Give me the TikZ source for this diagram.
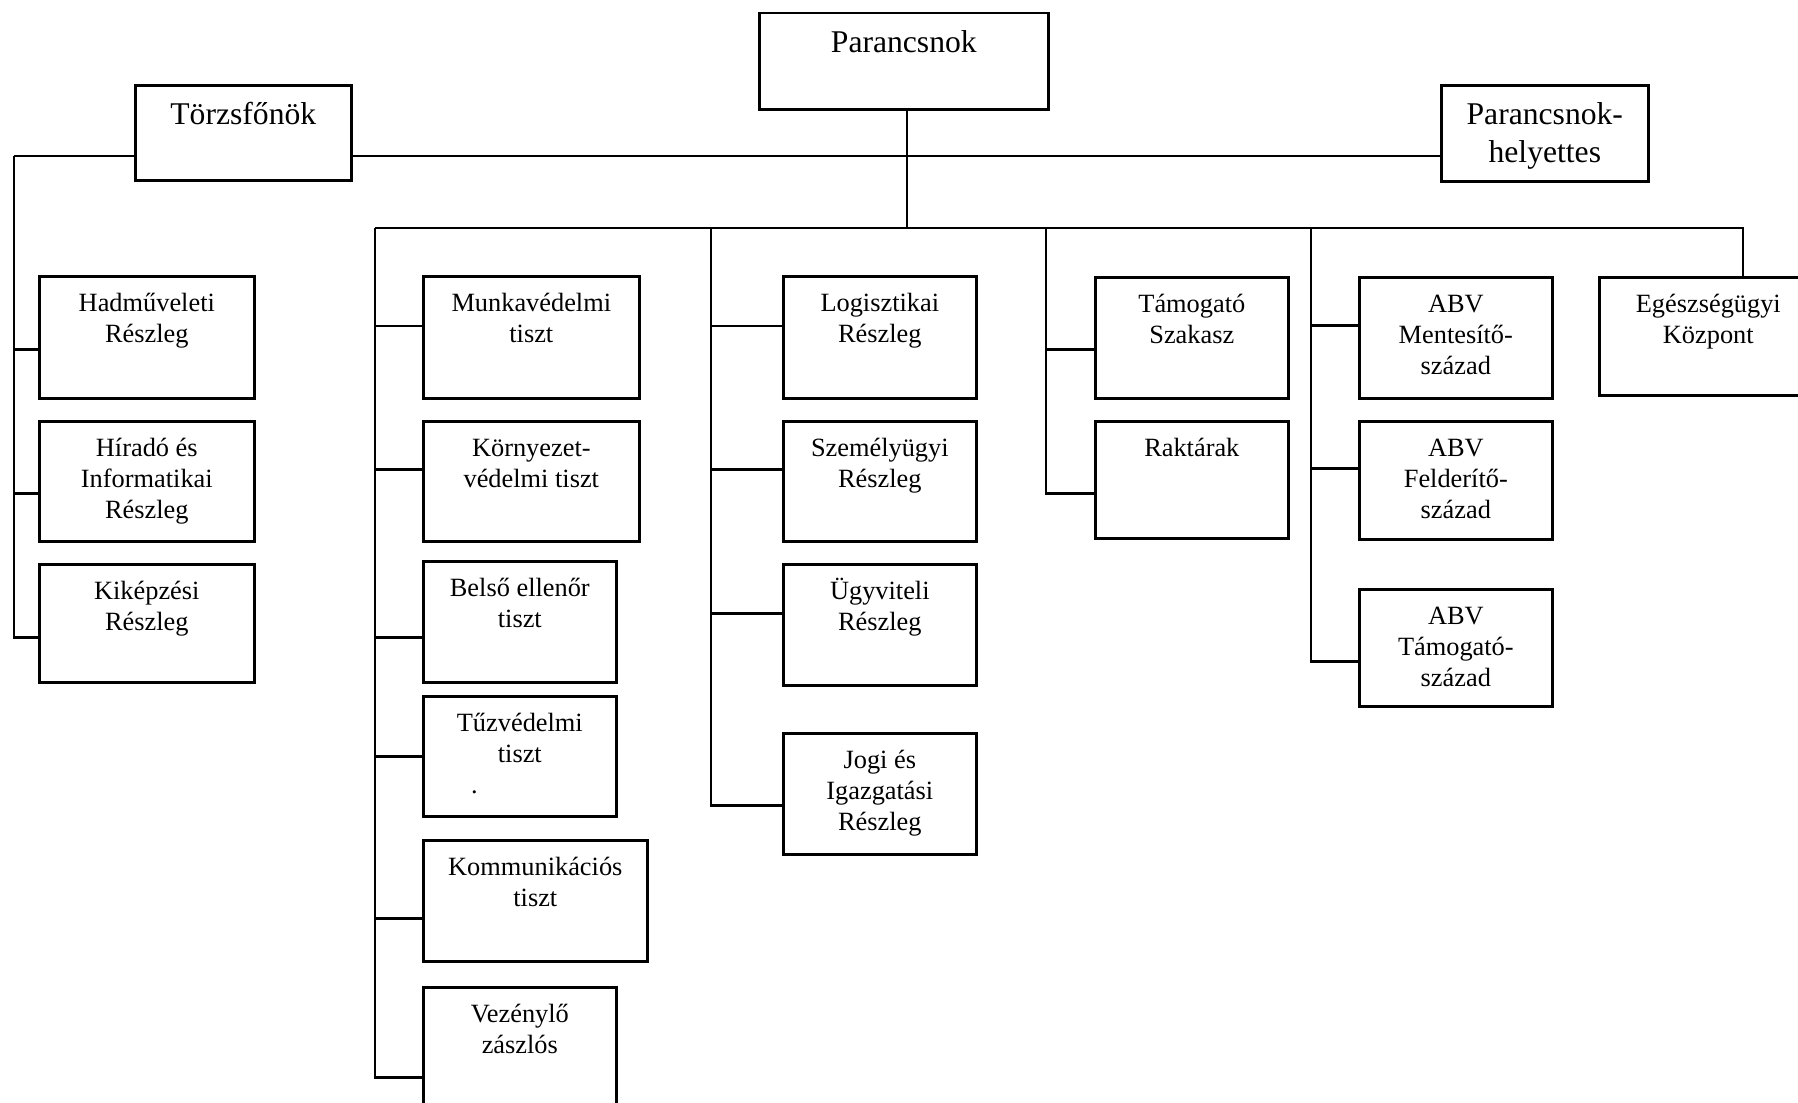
\documentclass[tikz,border=0pt]{standalone}
\usepackage{fontspec}
\setmainfont{Liberation Serif}

\begin{document}
\begin{tikzpicture}[
    box/.style={draw, line width=0.75pt, anchor=north west, inner sep=0pt,
        minimum width=1.93cm, minimum height=1.21cm},
    lbl/.style={anchor=north, align=center, inner sep=0pt, yshift=-0.143cm,
        font=\fontsize{7.5}{8.8}\selectfont},
    biglbl/.style={anchor=north, align=center, inner sep=0pt, yshift=-0.14cm,
        font=\fontsize{9}{10.6}\selectfont},
    link/.style={line width=0.7pt}
]
    \useasboundingbox (0,0) rectangle (17.98,-11.02);
    \clip (0,0) rectangle (17.98,-11.02);

    % Vezetes
    \node[box, minimum width=2.89cm, minimum height=0.965cm,
        label={[biglbl]north:\strut Parancsnok}] (parancsnok) at (7.58,-0.115) {};
    \node[box, minimum width=2.16cm, minimum height=0.95cm,
        label={[biglbl]north:\strut Törzsfőnök}] (torzs) at (1.34,-0.84) {};
    \node[box, minimum width=2.07cm, minimum height=0.96cm,
        label={[biglbl]north:\strut Parancsnok-\\helyettes}] (helyettes) at (14.40,-0.84) {};

    % Torzsfonok alatti reszlegek
    \node[box, minimum width=2.15cm, minimum height=1.22cm,
        label={[lbl]north:\strut Hadműveleti\\Részleg}] (had) at (0.38,-2.75) {};
    \node[box, minimum width=2.15cm, minimum height=1.20cm,
        label={[lbl]north:\strut Híradó és\\Informatikai\\Részleg}] (hir) at (0.38,-4.20) {};
    \node[box, minimum width=2.15cm, minimum height=1.18cm,
        label={[lbl]north:\strut Kiképzési\\Részleg}] (kik) at (0.38,-5.63) {};

    % Tisztek
    \node[box, minimum width=2.16cm, minimum height=1.22cm,
        label={[lbl]north:\strut Munkavédelmi\\tiszt}] (munka) at (4.22,-2.75) {};
    \node[box, minimum width=2.16cm, minimum height=1.20cm,
        label={[lbl]north:\strut Környezet-\\védelmi tiszt}] (korny) at (4.22,-4.20) {};
    \node[box, label={[lbl]north:\strut Belső ellenőr\\tiszt}] (belso) at (4.22,-5.60) {};
    \node[box, minimum height=1.20cm,
        label={[lbl]north:\strut Tűzvédelmi\\tiszt\\.\hspace*{0.91cm}}] (tuz) at (4.22,-6.95) {};
    \node[box, minimum width=2.24cm,
        label={[lbl]north:\strut Kommunikációs\\tiszt}] (komm) at (4.22,-8.39) {};
    \node[box, label={[lbl]north:\strut Vezénylő\\zászlós}] (vez) at (4.22,-9.86) {};

    % Reszlegek
    \node[box, minimum height=1.22cm,
        label={[lbl]north:\strut Logisztikai\\Részleg}] (log) at (7.82,-2.75) {};
    \node[box, minimum height=1.20cm,
        label={[lbl]north:\strut Személyügyi\\Részleg}] (szem) at (7.82,-4.20) {};
    \node[box, label={[lbl]north:\strut Ügyviteli\\Részleg}] (ugy) at (7.82,-5.63) {};
    \node[box, label={[lbl]north:\strut Jogi és\\Igazgatási\\Részleg}] (jogi) at (7.82,-7.32) {};

    % Tamogatas
    \node[box, label={[lbl]north:\strut Támogató\\Szakasz}] (tam) at (10.94,-2.76) {};
    \node[box, minimum height=1.17cm,
        label={[lbl]north:\strut Raktárak}] (rakt) at (10.94,-4.20) {};

    % ABV szazadok
    \node[box, label={[lbl]north:\strut ABV\\Mentesítő-\\század}] (abv1) at (13.58,-2.76) {};
    \node[box, minimum height=1.18cm,
        label={[lbl]north:\strut ABV\\Felderítő-\\század}] (abv2) at (13.58,-4.20) {};
    \node[box, minimum height=1.17cm,
        label={[lbl]north:\strut ABV\\Támogató-\\század}] (abv3) at (13.58,-5.88) {};
    \node[box, minimum width=2.18cm, minimum height=1.18cm,
        label={[lbl]north:\strut Egészségügyi\\Központ}] (egesz) at (15.98,-2.76) {};

    % Csomopontok
    \coordinate (lt) at (0.14,-1.56);
    \coordinate (hub) at (9.07,-2.28);
    \coordinate (b1) at (3.75,-2.28);
    \coordinate (b2) at (7.11,-2.28);
    \coordinate (b3) at (10.46,-2.28);
    \coordinate (b4) at (13.11,-2.28);
    \coordinate (b5) at (17.43,-2.28);

    % Vezetesi vonalak
    \draw[link] (parancsnok.south -| hub) -- (hub);
    \draw[link] (b1) -- (b5) -- (b5 |- egesz.north);
    \draw[link] (lt) -- (torzs.west |- lt);
    \draw[link] (torzs.east |- lt) -- (helyettes.west |- lt);

    % Oszlopok
    \draw[link] (lt) |- ([yshift=-0.14cm]kik.west);
    \foreach \n/\d in {had/-0.12, hir/-0.12}
        \draw[link] ([yshift=\d cm]\n.west) -| (lt);

    \draw[link] (b1) |- ([yshift=-0.295cm]vez.west);
    \foreach \n/\d in {munka/0.115, korny/0.12, belso/-0.155, tuz/0, komm/-0.175}
        \draw[link] ([yshift=\d cm]\n.west) -| (b1);

    \draw[link] (b2) |- ([yshift=-0.115cm]jogi.west);
    \foreach \n/\d in {log/0.115, szem/0.12, ugy/0.115}
        \draw[link] ([yshift=\d cm]\n.west) -| (b2);

    \draw[link] (b3) |- ([yshift=-0.135cm]rakt.west);
    \draw[link] ([yshift=-0.115cm]tam.west) -| (b3);

    \draw[link] (b4) |- ([yshift=-0.135cm]abv3.west);
    \foreach \n/\d in {abv1/0.125, abv2/0.12}
        \draw[link] ([yshift=\d cm]\n.west) -| (b4);
\end{tikzpicture}
\end{document}
